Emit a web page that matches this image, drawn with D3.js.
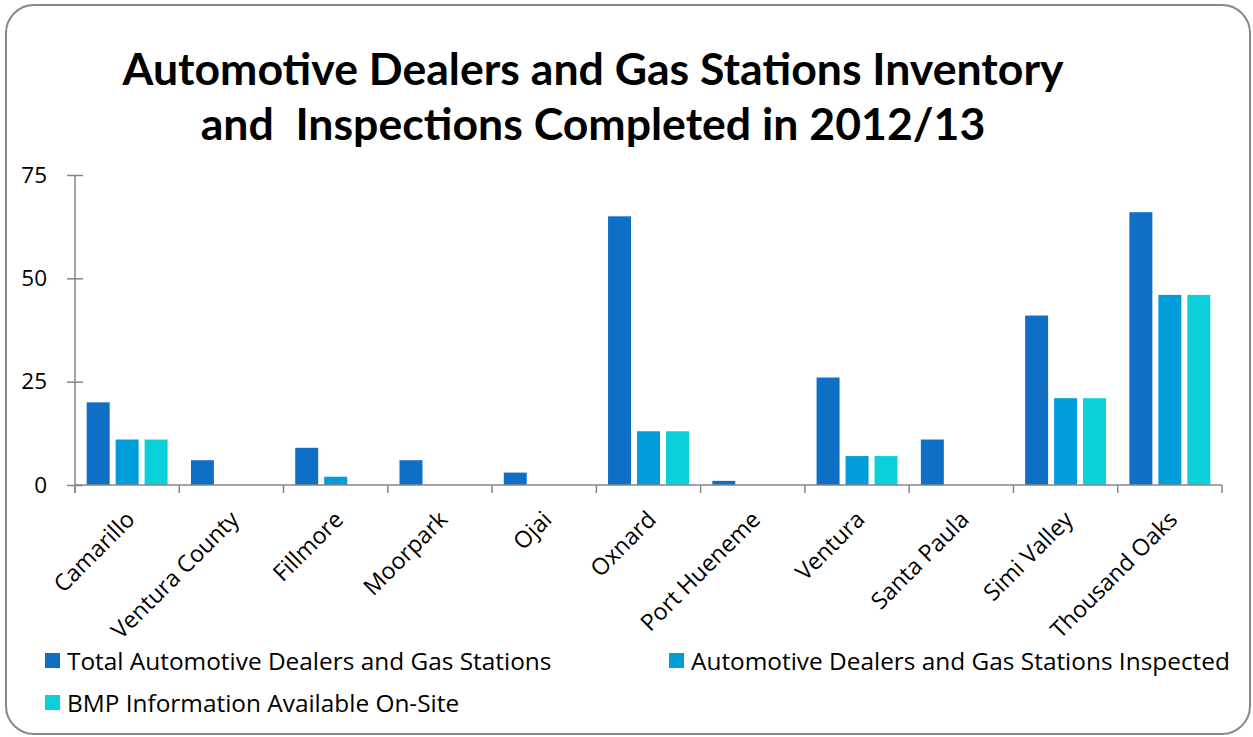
<!DOCTYPE html>
<html>
<head>
<meta charset="utf-8">
<script src="https://cdn.jsdelivr.net/npm/d3@7"></script>
<style>
  body { margin: 0; background: #fff; }
  svg { display: block; font-family: 'Open Sans', sans-serif; }
  .axis path, .axis line { stroke: #868686; stroke-width: 1.5; }
  .axis text { fill: #000; font-size: 22.5px; font-family: 'Open Sans', sans-serif; }
  .axis-x text { font-size: 23.2px; }
</style>
</head>
<body>
<svg id="chart"></svg>
<script>
const categories = ['Camarillo', 'Ventura County', 'Fillmore', 'Moorpark', 'Ojai', 'Oxnard',
  'Port Hueneme', 'Ventura', 'Santa Paula', 'Simi Valley', 'Thousand Oaks']
const seriesNames = ['Total Automotive Dealers and Gas Stations',
  'Automotive Dealers and Gas Stations Inspected',
  'BMP Information Available On-Site']
const totalValues = [20, 6, 9, 6, 3, 65, 1, 26, 11, 41, 66]
const inspectedValues = [11, 0, 2, 0, 0, 13, 0, 7, 0, 21, 46]
const bmpValues = [11, 0, 0, 0, 0, 13, 0, 7, 0, 21, 46]
const yTicks = [0, 25, 50, 75]
const colors = ['#0F6FC6', '#009DD9', '#0BD0D9']
const titleLines = ['Automotive Dealers and Gas Stations Inventory', 'and  Inspections Completed in 2012/13']

const W = 1253
const H = 737
const margin = { top: 175, right: 31, bottom: 252, left: 75 }
const width = W - margin.left - margin.right
const height = H - margin.top - margin.bottom

const svg = d3.select('#chart').attr('width', W).attr('height', H)

// outer frame
svg.append('rect')
  .attr('x', 6).attr('y', 5)
  .attr('width', W - 9).attr('height', H - 8)
  .attr('rx', 28).attr('ry', 28)
  .attr('fill', '#fff')
  .attr('stroke', '#898989')
  .attr('stroke-width', 2)

// title
svg.append('text')
  .attr('text-anchor', 'middle')
  .style('font-family', 'Lato, sans-serif')
  .style('font-weight', 'bold')
  .style('font-size', '44.6px')
  .selectAll('tspan')
  .data(titleLines)
  .join('tspan')
  .attr('x', 593)
  .attr('y', (d, i) => 85 + i * 55)
  .style('white-space', 'pre')
  .text(d => d)

const series = [totalValues, inspectedValues, bmpValues]
const rows = categories.map((c, i) => ({ cat: c, vals: series.map(s => s[i]) }))

const x0 = d3.scaleBand().domain(categories).range([0, width]).padding(0)
const x1 = d3.scaleBand()
  .domain(d3.range(series.length))
  .range([x0.bandwidth() * 0.112, x0.bandwidth() * 0.888])
  .paddingInner(0.207)
const y = d3.scaleLinear().domain([0, 75]).range([height, 0])

const g = svg.append('g').attr('transform', `translate(${margin.left},${margin.top})`)

const groups = g.selectAll('.cat')
  .data(rows)
  .join('g')
  .attr('class', 'cat')
  .attr('transform', d => `translate(${x0(d.cat)},0)`)

groups.selectAll('rect')
  .data(d => d.vals.map((v, k) => ({ k, v })))
  .join('rect')
  .attr('x', d => x1(d.k))
  .attr('width', x1.bandwidth())
  .attr('y', d => y(d.v))
  .attr('height', d => height - y(d.v))
  .attr('fill', d => colors[d.k])

// y axis with crossing ticks
const axisY = d3.axisLeft(y).tickValues(yTicks).tickSizeInner(8).tickSizeOuter(0).tickPadding(20)
const gy = g.append('g').attr('class', 'axis axis-y').call(axisY)
gy.selectAll('.tick line').attr('x1', 8)
gy.select('.domain').attr('d', `M0,${height + 8}V0`)

// x axis, ticks at category boundaries
const gx = g.append('g').attr('class', 'axis axis-x')
  .attr('transform', `translate(0,${height})`)
gx.append('line').attr('x1', 0).attr('x2', width).attr('y1', 0).attr('y2', 0)
gx.selectAll('.bound')
  .data(categories.concat(['end']))
  .join('line')
  .attr('class', 'bound')
  .attr('x1', (d, i) => i * x0.step())
  .attr('x2', (d, i) => i * x0.step())
  .attr('y1', 0).attr('y2', 8)

gx.selectAll('.lbl')
  .data(categories)
  .join('text')
  .attr('class', 'lbl')
  .attr('text-anchor', 'end')
  .attr('transform', d => `translate(${x0(d) + x0.bandwidth() / 2 + 9},${36}) rotate(-45)`)
  .text(d => d)

// legend
const legendPos = [[45, 661], [669, 661], [45, 703]]
const legend = svg.append('g').selectAll('g')
  .data(seriesNames)
  .join('g')
  .attr('transform', (d, i) => `translate(${legendPos[i][0]},${legendPos[i][1]})`)

legend.append('rect')
  .attr('x', 0).attr('y', -8)
  .attr('width', 15).attr('height', 15)
  .attr('fill', (d, i) => colors[i])

legend.append('text')
  .attr('x', 22)
  .attr('dy', '0.35em')
  .style('font-size', '24.4px')
  .text(d => d)
</script>
</body>
</html>
